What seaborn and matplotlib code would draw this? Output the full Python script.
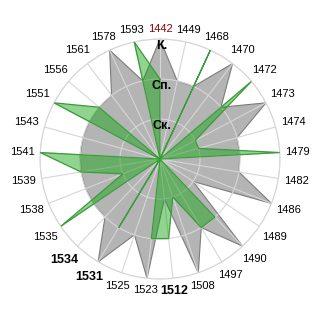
import numpy as np
import matplotlib
matplotlib.use('Agg')
import matplotlib.pyplot as plt
import seaborn as sns

categories = ['1442', '1449', '1468', '1470', '1472', '1473', '1474', '1479', '1482',
              '1486', '1489', '1490', '1497', '1508', '1512', '1523', '1525', '1531',
              '1534', '1535', '1538', '1539', '1541', '1543', '1551', '1556', '1561',
              '1578', '1593']
series_gray = [3, 2, 2, 3, 2, 3, 2, 2, 2, 3, 1, 3, 2, 3, 1, 3, 2, 3, 2, 2, 2, 2, 2, 2, 2, 2, 2, 3, 2]
series_green = [2, 0, 3, 0, 3, 1, 1, 3, 0, 0, 0, 2, 2, 1, 2, 2, 0, 2, 0, 3, 1, 2, 3, 0, 3, 2, 0, 0, 3]
level_values = [1, 2, 3]
level_labels = ['Ск.', 'Сп.', 'К.']
red_labels = ['1442']
bold_labels = ['1512', '1531', '1534']

sns.set_theme(style='white')
plt.rcParams['font.family'] = ['Liberation Sans', 'DejaVu Sans']

fig = plt.figure(figsize=(3.2, 3.2), dpi=100)
fig.patch.set_facecolor('white')
ax = fig.add_axes([0.125, 0.128, 0.75, 0.75], projection='polar')
ax.set_facecolor('white')
n = len(categories)
theta = np.arange(n) * 2 * np.pi / n
ax.set_theta_zero_location('N')
ax.set_theta_direction(-1)

tc = np.append(theta, theta[0])
g = np.append(series_gray, series_gray[0])
gr = np.append(series_green, series_green[0])
ax.fill(tc, g, facecolor='#b4b4b4', edgecolor='#7c7c7c', lw=0.8, zorder=1)
ax.fill(tc, gr, facecolor=(0.05, 0.64, 0.05, 0.46), edgecolor='none', zorder=3)
ax.plot(tc, gr, color='#3a9c3a', lw=0.9, zorder=4, solid_joinstyle='miter')

ax.set_ylim(0, 3)
ax.set_xticks(theta)
ax.set_xticklabels([])
ax.set_yticks(level_values)
ax.set_yticklabels([])
ax.grid(True, color='#d6d6d6', lw=0.8)
ax.set_axisbelow(False)
ax.spines['polar'].set_color('#d6d6d6')
ax.spines['polar'].set_linewidth(0.8)
ax.tick_params(length=0, pad=0)

texts = []
for t, lab in zip(theta, categories):
    bold = lab in bold_labels
    col = '#8b0000' if lab in red_labels else 'black'
    txt = ax.annotate(lab, xy=(t, 3), xytext=(0, 0), textcoords='offset pixels',
                      ha='center', va='center', fontsize=9 if bold else 8,
                      fontweight='bold' if bold else 'normal', color=col,
                      annotation_clip=False)
    texts.append((t, txt))

for v, lab in zip(level_values, level_labels):
    ax.annotate(lab, xy=(0, v), xytext=(1.5, -1), textcoords='offset pixels',
                ha='center', va='top', fontsize=9, fontweight='bold', color='black',
                zorder=6, annotation_clip=False)

fig.canvas.draw()
rend = fig.canvas.get_renderer()
for t, txt in texts:
    bb = txt.get_window_extent(renderer=rend)
    w, h = bb.width, bb.height
    off = 5 + w / 2 * abs(np.sin(t)) + h / 2 * abs(np.cos(t))
    txt.set_position((off * np.sin(t), off * np.cos(t)))

fig.savefig('out.png', dpi=100, facecolor='white')
